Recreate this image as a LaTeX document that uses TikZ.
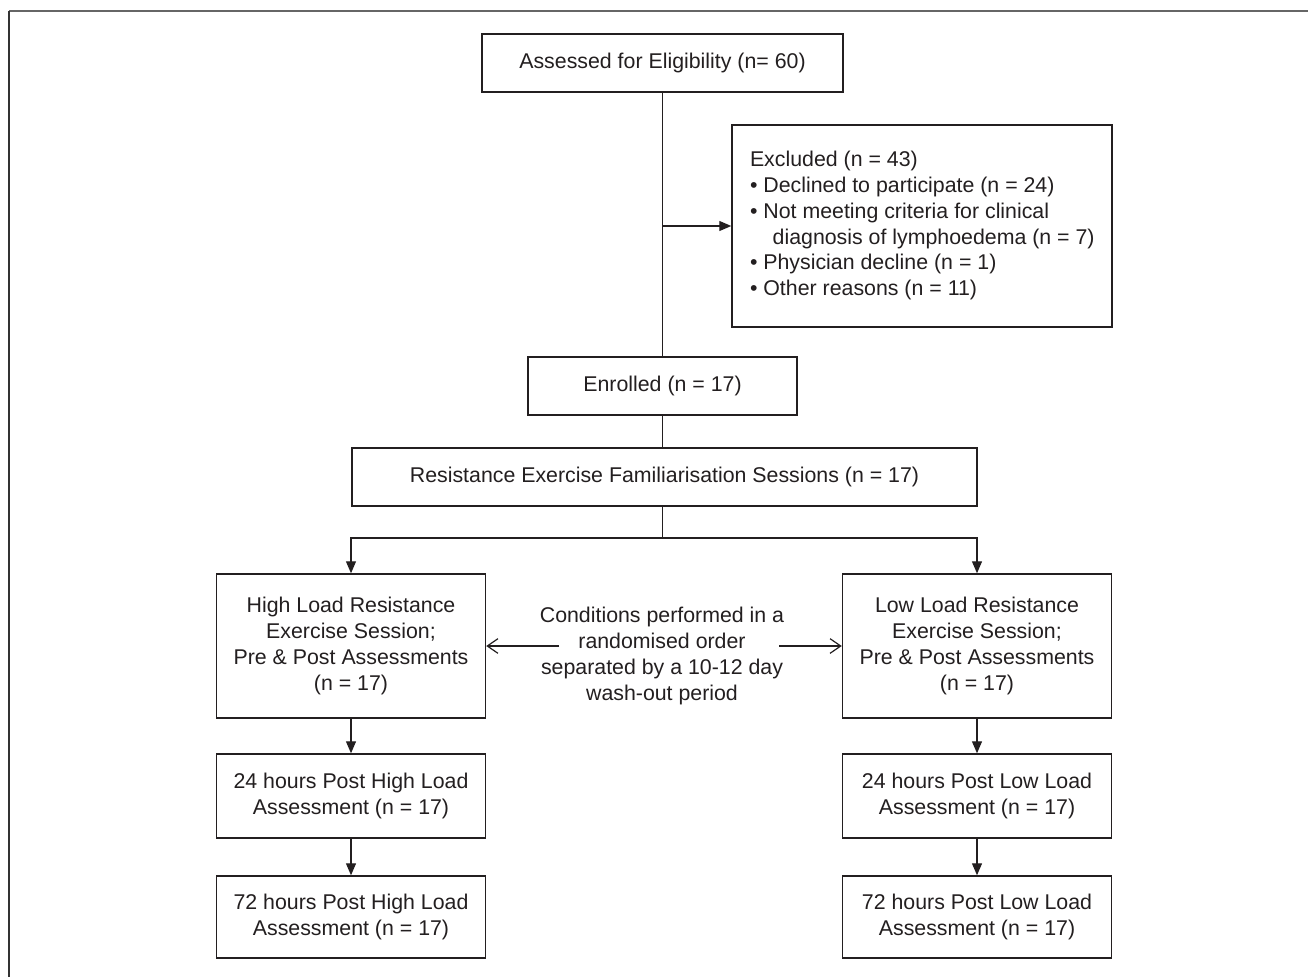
\documentclass[tikz,border=0pt]{standalone}
\usepackage{fontspec}
\setmainfont{Liberation Sans}
\usetikzlibrary{arrows.meta}
\definecolor{ink}{HTML}{231F20}
\definecolor{framegray}{HTML}{666666}
\definecolor{frameleft}{HTML}{333333}
\begin{document}
\begin{tikzpicture}[x=0.75pt,y=-0.75pt,
  box/.style={draw=ink, line width=1.1pt, text=ink, align=center, inner sep=0pt,
    font=\fontsize{16}{19.4}\selectfont},
  conn/.style={draw=ink, line width=0.9pt},
  arr/.style={conn, -{Triangle[length=9pt,width=7.5pt]}},
  openarr/.style={conn, -{Straight Barb[length=8pt,width=11pt,line width=0.9pt]}}]
\useasboundingbox (0,0) rectangle (1308,977);
\fill[white] (0,0) rectangle (1308,977);
% outer frame
\draw[framegray, line width=1.5pt] (9,11) -- (1308,11);
\draw[frameleft, line width=1.5pt] (9,11) -- (9,977);
% nodes
\node[box, minimum width=270.75pt, minimum height=43.5pt] (assess) at (662.5,63) {Assessed for Eligibility (n= 60)};
\node[box, minimum width=285pt, minimum height=151.5pt] (exc) at (922,226)
  {\makebox[258pt][l]{\renewcommand{\arraystretch}{1}\setlength{\baselineskip}{18.6pt}%
   \begin{tabular}{@{}l@{}}
   Excluded (n = 43)\\
   • Declined to participate (n = 24)\\
   • Not meeting criteria for clinical\\
   \hspace*{17pt}diagnosis of lymphoedema (n = 7)\\
   • Physician decline (n = 1)\\
   • Other reasons (n = 11)
   \end{tabular}}};
\node[box, minimum width=201.75pt, minimum height=43.5pt] (enr) at (662.5,386) {Enrolled (n = 17)};
\node[box, minimum width=468.75pt, minimum height=43.5pt] (res) at (664.5,477) {Resistance Exercise Familiarisation Sessions (n = 17)};
\node[box, minimum width=201.75pt, minimum height=108pt] (high) at (351,646)
  {High Load Resistance\\Exercise Session;\\Pre \& Post Assessments\\(n = 17)};
\node[box, minimum width=201.75pt, minimum height=108pt] (low) at (977,646)
  {Low Load Resistance\\Exercise Session;\\Pre \& Post Assessments\\(n = 17)};
\node[box, minimum width=201.75pt, minimum height=63pt] (h24) at (351,796)
  {24 hours Post High Load\\Assessment (n = 17)};
\node[box, minimum width=201.75pt, minimum height=63pt] (l24) at (977,796)
  {24 hours Post Low Load\\Assessment (n = 17)};
\node[box, minimum width=201.75pt, minimum height=61.5pt] (h72) at (351,917)
  {72 hours Post High Load\\Assessment (n = 17)};
\node[box, minimum width=201.75pt, minimum height=61.5pt] (l72) at (977,917)
  {72 hours Post Low Load\\Assessment (n = 17)};
\node[text=ink, align=center, inner sep=0pt, font=\fontsize{16}{19.5}\selectfont] (cond) at (662,656)
  {Conditions performed in a\\randomised order\\separated by a 10-12 day\\wash-out period};
% coordinates
\coordinate (j1) at (662.5,226);
\coordinate (split) at (662.5,538);
\coordinate (cl) at (559,646);
\coordinate (cr) at (779,646);
% connectors
\draw[conn] (assess.south) -- (enr.north);
\draw[arr] (j1) -- (exc.west);
\draw[conn] (enr.south) -- (enr.south |- res.north);
\draw[conn] (split |- res.south) -- (split);
\draw[arr] (split) -| (high.north);
\draw[arr] (split) -| (low.north);
\draw[arr] (high.south) -- (h24.north);
\draw[arr] (h24.south) -- (h72.north);
\draw[arr] (low.south) -- (l24.north);
\draw[arr] (l24.south) -- (l72.north);
\draw[openarr] (cl) -- (high.east);
\draw[openarr] (cr) -- (low.west);
\end{tikzpicture}
\end{document}
